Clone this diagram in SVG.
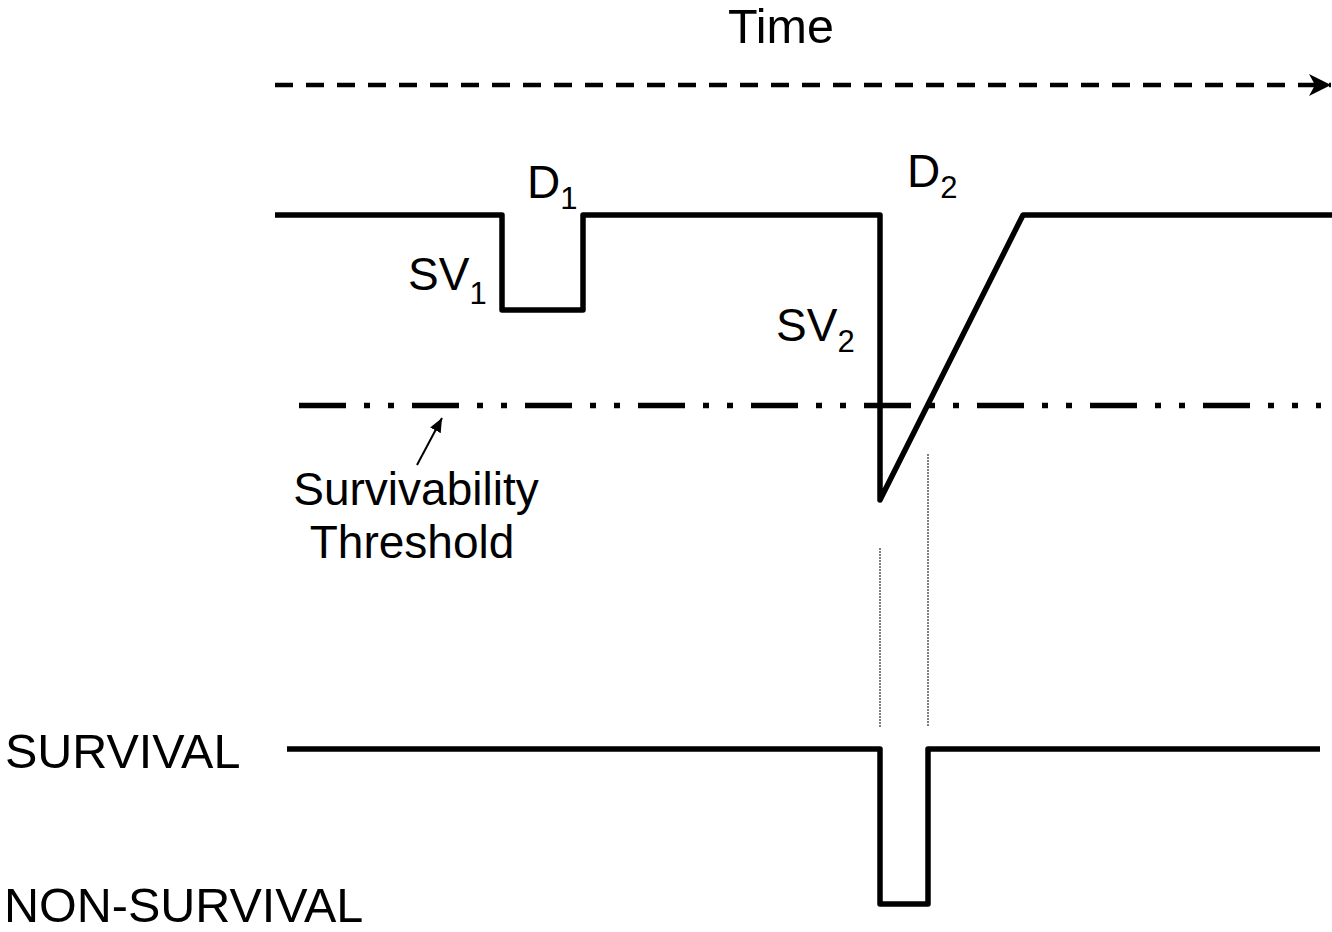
<svg xmlns="http://www.w3.org/2000/svg" width="1332" height="932" viewBox="0 0 1332 932">
<defs>
<style>
text{font-family:"Liberation Sans",Arial,sans-serif;fill:#000}
.lbl{font-size:46px}
.big{font-size:48.5px}
.sub{font-size:31px}
.wave{fill:none;stroke:#000;stroke-width:5.5;stroke-linejoin:round}
.dots{fill:none;stroke:#555;stroke-width:1.5;stroke-dasharray:2 1}
</style>
<marker id="bigArrow" viewBox="0 0 22 22" refX="22" refY="11" markerWidth="22" markerHeight="22" markerUnits="userSpaceOnUse" orient="auto">
<path d="M0,0 L22,11 L0,22 L6,11 Z" fill="#000"/>
</marker>
<marker id="smallArrow" viewBox="0 0 14 12" refX="14" refY="6" markerWidth="14" markerHeight="12" markerUnits="userSpaceOnUse" orient="auto">
<path d="M0,0 L14,6 L0,12 Z" fill="#000"/>
</marker>
</defs>
<rect width="1332" height="932" fill="#fff"/>

<g id="time-axis">
<line x1="275" y1="85" x2="1331" y2="85" stroke="#000" stroke-width="4.5" stroke-dasharray="18 13" marker-end="url(#bigArrow)"/>
<text class="big" x="781" y="43" text-anchor="middle">Time</text>
</g>

<g id="threshold">
<line x1="299" y1="405.5" x2="1321" y2="405.5" stroke="#000" stroke-width="5.5" stroke-dasharray="47 18 6 18 6 18"/>
</g>

<g id="sv-signal">
<polyline class="wave" points="275,215 502,215 502,310 583,310 583,215 880,215 880,500 1023,215 1332,215"/>
</g>

<g id="survival-signal">
<polyline class="wave" points="287,749 880,749 880,904 928,904 928,749 1320,749"/>
</g>

<g id="connectors">
<line class="dots" x1="880" y1="548" x2="880" y2="727"/>
<line class="dots" x1="928" y1="454" x2="928" y2="727"/>
<line x1="417" y1="465" x2="442" y2="418" stroke="#000" stroke-width="2" marker-end="url(#smallArrow)"/>
</g>

<g id="label-d1"><text class="lbl" x="527" y="198">D<tspan class="sub" dy="11">1</tspan></text></g>
<g id="label-sv1"><text class="lbl" x="408" y="290">SV<tspan class="sub" dy="14">1</tspan></text></g>
<g id="label-d2"><text class="lbl" x="907" y="187">D<tspan class="sub" dy="11">2</tspan></text></g>
<g id="label-sv2"><text class="lbl" x="776" y="341">SV<tspan class="sub" dy="11">2</tspan></text></g>
<g id="label-threshold">
<text class="lbl" x="416" y="505" text-anchor="middle">Survivability</text>
<text class="lbl" x="412" y="558" text-anchor="middle">Threshold</text>
</g>
<g id="label-survival"><text class="big" x="5" y="768">SURVIVAL</text></g>
<g id="label-nonsurvival"><text class="big" x="4" y="922">NON-SURVIVAL</text></g>
</svg>
